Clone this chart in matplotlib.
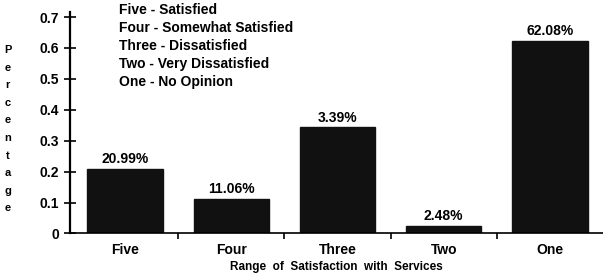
import numpy as np
import matplotlib.pyplot as plt

plt.rcParams['font.family'] = ['Liberation Sans', 'DejaVu Sans']
plt.rcParams['font.weight'] = 'bold'

# data
categories = ['Five', 'Four', 'Three', 'Two', 'One']
shares = [0.21, 0.112, 0.343, 0.025, 0.622]
bar_labels = ['20.99%', '11.06%', '3.39%', '2.48%', '62.08%']
legend_lines = ['Five - Satisfied',
                'Four - Somewhat Satisfied',
                'Three - Dissatisfied',
                'Two - Very Dissatisfied',
                'One - No Opinion']
y_ticks = [0, 0.1, 0.2, 0.3, 0.4, 0.5, 0.6, 0.7]
y_tick_labels = ['0', '0.1', '0.2', '0.3', '0.4', '0.5', '0.6', '0.7']

fig = plt.figure(figsize=(6.03, 2.75), dpi=100)
ax = fig.add_axes([0.116, 0.151, 0.884, 0.787])

x = np.arange(len(categories))
bars = ax.bar(x, shares, width=0.71, color='#111111', edgecolor='#111111')

for b, lab in zip(bars, bar_labels):
    ax.annotate(lab, (b.get_x() + b.get_width() / 2, b.get_height()),
                xytext=(0, 2), textcoords='offset points',
                ha='center', va='bottom', fontsize=10, fontweight='bold')

ax.set_xlim(-0.52, 4.5)
ax.set_ylim(0, 0.7)
ax.set_yticks(y_ticks)
ax.set_yticklabels(y_tick_labels, fontsize=10, fontweight='bold')
ax.tick_params(axis='y', direction='inout', length=8, width=1.2, pad=4)

# category names sit under the bars, tick marks between them
ax.set_xticks(x)
ax.set_xticklabels(categories, fontsize=10, fontweight='bold')
ax.tick_params(axis='x', length=0, pad=7)
ax.set_xticks(x[:-1] + 0.5, minor=True)
ax.tick_params(axis='x', which='minor', direction='out', length=4, width=1.2)

for s in ['top', 'right']:
    ax.spines[s].set_visible(False)
ax.spines['left'].set_linewidth(1.6)
ax.spines['bottom'].set_linewidth(1.2)
ax.spines['left'].set_bounds(0, 0.715)
ax.spines['left'].set_clip_on(False)

ax.set_xlabel('Range  of  Satisfaction  with  Services', fontsize=8.5,
              fontweight='bold', labelpad=3)

fig.text(0.013, 0.53, '\n'.join('Percentage'), ha='center', va='center',
         fontsize=8, fontweight='bold', linespacing=1.95)

fig.text(0.198, 0.99, '\n'.join(legend_lines), ha='left', va='top',
         fontsize=10, fontweight='bold', linespacing=1.38)

fig.savefig('out.png', dpi=100)
